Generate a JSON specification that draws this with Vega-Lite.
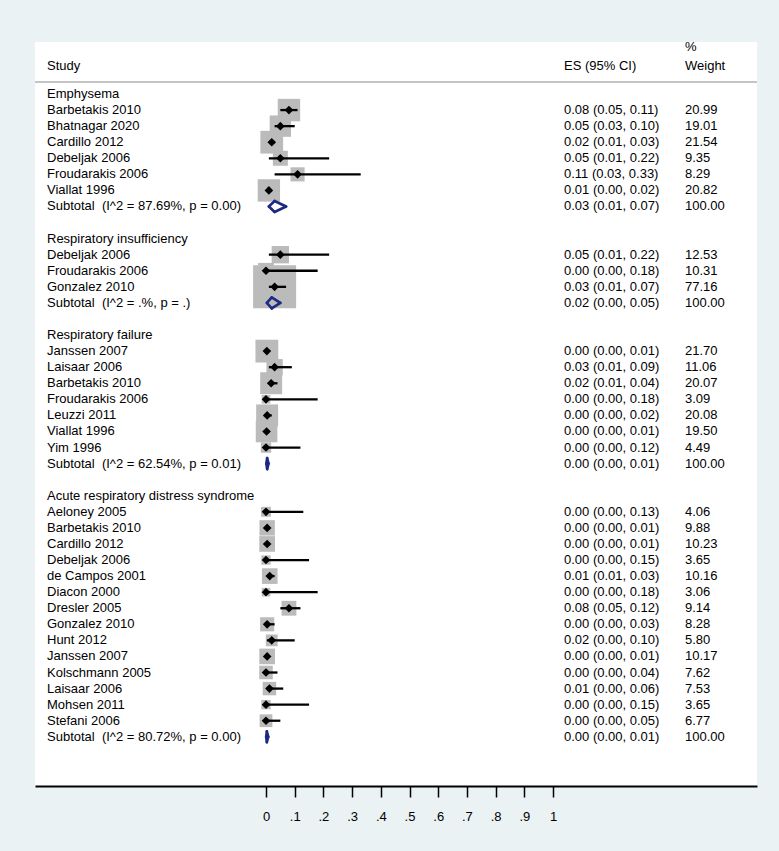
{
  "$schema": "https://vega.github.io/schema/vega-lite/v6.json",
  "width": 722,
  "height": 744,
  "autosize": {"type": "none"},
  "padding": {"left": 35, "top": 42, "right": 22, "bottom": 65},
  "background": "#eaf2f3",
  "config": {
    "view": {"fill": "white", "stroke": null},
    "font": "Liberation Sans",
    "text": {"font": "Liberation Sans", "fontSize": 13, "color": "#000000", "baseline": "middle", "align": "left"},
    "axisX": {"grid": false, "labelExpr": "datum.value == 0 ? '0' : datum.value == 1 ? '1' : '.' + round(datum.value * 10)", "domainColor": "#000000", "domainWidth": 2, "tickColor": "#000000", "tickWidth": 1.5, "tickSize": 11, "labelFont": "Liberation Sans", "labelFontSize": 13, "labelColor": "#000000", "labelPadding": 13, "labelFlush": false, "labelOverlap": false}
  },
  "data": {
    "values": [
      {"row": 0, "label": "Emphysema", "type": "group"},
      {"row": 1, "label": "Barbetakis 2010", "type": "study", "es": 0.08, "lo": 0.05, "hi": 0.11, "w": 20.99, "ci": "0.08 (0.05, 0.11)", "wt": "20.99"},
      {"row": 2, "label": "Bhatnagar 2020", "type": "study", "es": 0.05, "lo": 0.03, "hi": 0.10, "w": 19.01, "ci": "0.05 (0.03, 0.10)", "wt": "19.01"},
      {"row": 3, "label": "Cardillo 2012", "type": "study", "es": 0.02, "lo": 0.01, "hi": 0.03, "w": 21.54, "ci": "0.02 (0.01, 0.03)", "wt": "21.54"},
      {"row": 4, "label": "Debeljak 2006", "type": "study", "es": 0.05, "lo": 0.01, "hi": 0.22, "w": 9.35, "ci": "0.05 (0.01, 0.22)", "wt": "9.35"},
      {"row": 5, "label": "Froudarakis 2006", "type": "study", "es": 0.11, "lo": 0.03, "hi": 0.33, "w": 8.29, "ci": "0.11 (0.03, 0.33)", "wt": "8.29"},
      {"row": 6, "label": "Viallat 1996", "type": "study", "es": 0.01, "lo": 0.003, "hi": 0.02, "w": 20.82, "ci": "0.01 (0.00, 0.02)", "wt": "20.82"},
      {"row": 7, "label": "Subtotal\u00a0 (I^2 = 87.69%, p = 0.00)", "type": "subtotal", "es": 0.03, "lo": 0.01, "hi": 0.07, "w": 100, "ci": "0.03 (0.01, 0.07)", "wt": "100.00"},
      {"row": 9, "label": "Respiratory insufficiency", "type": "group"},
      {"row": 10, "label": "Debeljak 2006", "type": "study", "es": 0.05, "lo": 0.01, "hi": 0.22, "w": 12.53, "ci": "0.05 (0.01, 0.22)", "wt": "12.53"},
      {"row": 11, "label": "Froudarakis 2006", "type": "study", "es": 0.0, "lo": 0.0, "hi": 0.18, "w": 10.31, "ci": "0.00 (0.00, 0.18)", "wt": "10.31"},
      {"row": 12, "label": "Gonzalez 2010", "type": "study", "es": 0.03, "lo": 0.01, "hi": 0.07, "w": 77.16, "ci": "0.03 (0.01, 0.07)", "wt": "77.16"},
      {"row": 13, "label": "Subtotal\u00a0 (I^2 = .%, p = .)", "type": "subtotal", "es": 0.02, "lo": 0.003, "hi": 0.05, "w": 100, "ci": "0.02 (0.00, 0.05)", "wt": "100.00"},
      {"row": 15, "label": "Respiratory failure", "type": "group"},
      {"row": 16, "label": "Janssen 2007", "type": "study", "es": 0.003, "lo": 0.0, "hi": 0.01, "w": 21.70, "ci": "0.00 (0.00, 0.01)", "wt": "21.70"},
      {"row": 17, "label": "Laisaar 2006", "type": "study", "es": 0.03, "lo": 0.01, "hi": 0.09, "w": 11.06, "ci": "0.03 (0.01, 0.09)", "wt": "11.06"},
      {"row": 18, "label": "Barbetakis 2010", "type": "study", "es": 0.018, "lo": 0.01, "hi": 0.04, "w": 20.07, "ci": "0.02 (0.01, 0.04)", "wt": "20.07"},
      {"row": 19, "label": "Froudarakis 2006", "type": "study", "es": 0.0, "lo": 0.0, "hi": 0.18, "w": 3.09, "ci": "0.00 (0.00, 0.18)", "wt": "3.09"},
      {"row": 20, "label": "Leuzzi 2011", "type": "study", "es": 0.004, "lo": 0.0, "hi": 0.02, "w": 20.08, "ci": "0.00 (0.00, 0.02)", "wt": "20.08"},
      {"row": 21, "label": "Viallat 1996", "type": "study", "es": 0.002, "lo": 0.0, "hi": 0.01, "w": 19.50, "ci": "0.00 (0.00, 0.01)", "wt": "19.50"},
      {"row": 22, "label": "Yim 1996", "type": "study", "es": 0.0, "lo": 0.0, "hi": 0.12, "w": 4.49, "ci": "0.00 (0.00, 0.12)", "wt": "4.49"},
      {"row": 23, "label": "Subtotal\u00a0 (I^2 = 62.54%, p = 0.01)", "type": "subtotal", "es": 0.004, "lo": 0.001, "hi": 0.009, "w": 100, "ci": "0.00 (0.00, 0.01)", "wt": "100.00"},
      {"row": 25, "label": "Acute respiratory distress syndrome", "type": "group"},
      {"row": 26, "label": "Aeloney 2005", "type": "study", "es": 0.0, "lo": 0.0, "hi": 0.13, "w": 4.06, "ci": "0.00 (0.00, 0.13)", "wt": "4.06"},
      {"row": 27, "label": "Barbetakis 2010", "type": "study", "es": 0.004, "lo": 0.0, "hi": 0.01, "w": 9.88, "ci": "0.00 (0.00, 0.01)", "wt": "9.88"},
      {"row": 28, "label": "Cardillo 2012", "type": "study", "es": 0.004, "lo": 0.0, "hi": 0.01, "w": 10.23, "ci": "0.00 (0.00, 0.01)", "wt": "10.23"},
      {"row": 29, "label": "Debeljak 2006", "type": "study", "es": 0.0, "lo": 0.0, "hi": 0.15, "w": 3.65, "ci": "0.00 (0.00, 0.15)", "wt": "3.65"},
      {"row": 30, "label": "de Campos 2001", "type": "study", "es": 0.013, "lo": 0.01, "hi": 0.03, "w": 10.16, "ci": "0.01 (0.01, 0.03)", "wt": "10.16"},
      {"row": 31, "label": "Diacon 2000", "type": "study", "es": 0.0, "lo": 0.0, "hi": 0.18, "w": 3.06, "ci": "0.00 (0.00, 0.18)", "wt": "3.06"},
      {"row": 32, "label": "Dresler 2005", "type": "study", "es": 0.08, "lo": 0.05, "hi": 0.12, "w": 9.14, "ci": "0.08 (0.05, 0.12)", "wt": "9.14"},
      {"row": 33, "label": "Gonzalez 2010", "type": "study", "es": 0.004, "lo": 0.0, "hi": 0.03, "w": 8.28, "ci": "0.00 (0.00, 0.03)", "wt": "8.28"},
      {"row": 34, "label": "Hunt 2012", "type": "study", "es": 0.02, "lo": 0.003, "hi": 0.10, "w": 5.80, "ci": "0.02 (0.00, 0.10)", "wt": "5.80"},
      {"row": 35, "label": "Janssen 2007", "type": "study", "es": 0.004, "lo": 0.0, "hi": 0.01, "w": 10.17, "ci": "0.00 (0.00, 0.01)", "wt": "10.17"},
      {"row": 36, "label": "Kolschmann 2005", "type": "study", "es": 0.0, "lo": 0.0, "hi": 0.04, "w": 7.62, "ci": "0.00 (0.00, 0.04)", "wt": "7.62"},
      {"row": 37, "label": "Laisaar 2006", "type": "study", "es": 0.012, "lo": 0.003, "hi": 0.06, "w": 7.53, "ci": "0.01 (0.00, 0.06)", "wt": "7.53"},
      {"row": 38, "label": "Mohsen 2011", "type": "study", "es": 0.0, "lo": 0.0, "hi": 0.15, "w": 3.65, "ci": "0.00 (0.00, 0.15)", "wt": "3.65"},
      {"row": 39, "label": "Stefani 2006", "type": "study", "es": 0.0, "lo": 0.0, "hi": 0.05, "w": 6.77, "ci": "0.00 (0.00, 0.05)", "wt": "6.77"},
      {"row": 40, "label": "Subtotal\u00a0 (I^2 = 80.72%, p = 0.00)", "type": "subtotal", "es": 0.003, "lo": 0.0005, "hi": 0.008, "w": 100, "ci": "0.00 (0.00, 0.01)", "wt": "100.00"}
    ]
  },
  "encoding": {
    "y": {"field": "row", "type": "quantitative", "scale": {"domain": [-3.2358, 43.062], "reverse": true, "nice": false, "zero": false}, "axis": null}
  },
  "layer": [
    {
      "transform": [{"filter": "datum.type == 'study'"}],
      "mark": {"type": "square", "filled": true, "color": "#bbbbbb", "opacity": 1},
      "encoding": {
        "x": {"field": "es", "type": "quantitative", "scale": {"domain": [-0.80488, 1.7108], "nice": false, "zero": false}, "axis": {"title": null, "values": [0, 0.1, 0.2, 0.3, 0.4, 0.5, 0.6, 0.7, 0.8, 0.9, 1]}},
        "size": {"field": "w", "type": "quantitative", "scale": {"domain": [0, 100], "range": [0, 2400], "zero": true}, "legend": null}
      }
    },
    {
      "transform": [{"filter": "datum.type == 'study'"}],
      "mark": {"type": "rule", "color": "#000000", "strokeWidth": 2.3},
      "encoding": {
        "x": {"field": "lo", "type": "quantitative", "axis": {"title": null, "values": [0, 0.1, 0.2, 0.3, 0.4, 0.5, 0.6, 0.7, 0.8, 0.9, 1]}},
        "x2": {"field": "hi"}
      }
    },
    {
      "transform": [{"filter": "datum.type == 'study'"}],
      "mark": {"type": "point", "shape": "diamond", "filled": true, "color": "#000000", "size": 75, "opacity": 1},
      "encoding": {
        "x": {"field": "es", "type": "quantitative", "axis": {"title": null, "values": [0, 0.1, 0.2, 0.3, 0.4, 0.5, 0.6, 0.7, 0.8, 0.9, 1]}}
      }
    },
    {
      "transform": [{"filter": "datum.type == 'subtotal'"}],
      "mark": {"type": "rule", "color": "#1c2a82", "strokeWidth": 2.6, "strokeCap": "round", "y2Offset": -5.5},
      "encoding": {"x": {"field": "lo", "type": "quantitative", "axis": {"title": null, "values": [0, 0.1, 0.2, 0.3, 0.4, 0.5, 0.6, 0.7, 0.8, 0.9, 1]}}, "x2": {"field": "es"}, "y2": {"field": "row"}}
    },
    {
      "transform": [{"filter": "datum.type == 'subtotal'"}],
      "mark": {"type": "rule", "color": "#1c2a82", "strokeWidth": 2.6, "strokeCap": "round", "y2Offset": 5.5},
      "encoding": {"x": {"field": "lo", "type": "quantitative", "axis": {"title": null, "values": [0, 0.1, 0.2, 0.3, 0.4, 0.5, 0.6, 0.7, 0.8, 0.9, 1]}}, "x2": {"field": "es"}, "y2": {"field": "row"}}
    },
    {
      "transform": [{"filter": "datum.type == 'subtotal'"}],
      "mark": {"type": "rule", "color": "#1c2a82", "strokeWidth": 2.6, "strokeCap": "round", "y2Offset": -5.5},
      "encoding": {"x": {"field": "hi", "type": "quantitative", "axis": {"title": null, "values": [0, 0.1, 0.2, 0.3, 0.4, 0.5, 0.6, 0.7, 0.8, 0.9, 1]}}, "x2": {"field": "es"}, "y2": {"field": "row"}}
    },
    {
      "transform": [{"filter": "datum.type == 'subtotal'"}],
      "mark": {"type": "rule", "color": "#1c2a82", "strokeWidth": 2.6, "strokeCap": "round", "y2Offset": 5.5},
      "encoding": {"x": {"field": "hi", "type": "quantitative", "axis": {"title": null, "values": [0, 0.1, 0.2, 0.3, 0.4, 0.5, 0.6, 0.7, 0.8, 0.9, 1]}}, "x2": {"field": "es"}, "y2": {"field": "row"}}
    },
    {
      "mark": {"type": "text"},
      "encoding": {
        "x": {"datum": -0.76307, "type": "quantitative", "axis": {"title": null, "values": [0, 0.1, 0.2, 0.3, 0.4, 0.5, 0.6, 0.7, 0.8, 0.9, 1]}},
        "text": {"field": "label"}
      }
    },
    {
      "transform": [{"filter": "datum.type != 'group'"}],
      "mark": {"type": "text"},
      "encoding": {
        "x": {"datum": 1.03833, "type": "quantitative", "axis": {"title": null, "values": [0, 0.1, 0.2, 0.3, 0.4, 0.5, 0.6, 0.7, 0.8, 0.9, 1]}},
        "text": {"field": "ci"}
      }
    },
    {
      "transform": [{"filter": "datum.type != 'group'"}],
      "mark": {"type": "text"},
      "encoding": {
        "x": {"datum": 1.45993, "type": "quantitative", "axis": {"title": null, "values": [0, 0.1, 0.2, 0.3, 0.4, 0.5, 0.6, 0.7, 0.8, 0.9, 1]}},
        "text": {"field": "wt"}
      }
    },
    {
      "data": {"values": [{"h": "Study", "col": -0.76307, "r": -1.742}, {"h": "ES (95% CI)", "col": 1.03833, "r": -1.742}, {"h": "Weight", "col": 1.45993, "r": -1.742}, {"h": "%", "col": 1.45993, "r": -2.925}]},
      "mark": {"type": "text"},
      "encoding": {
        "x": {"field": "col", "type": "quantitative", "axis": {"title": null, "values": [0, 0.1, 0.2, 0.3, 0.4, 0.5, 0.6, 0.7, 0.8, 0.9, 1]}},
        "y": {"field": "r", "type": "quantitative"},
        "text": {"field": "h"}
      }
    },
    {
      "data": {"values": [{"a": -0.80488, "b": 1.7108, "r": -0.747}]},
      "mark": {"type": "rule", "color": "#c4c4c4", "strokeWidth": 2},
      "encoding": {
        "x": {"field": "a", "type": "quantitative", "axis": {"title": null, "values": [0, 0.1, 0.2, 0.3, 0.4, 0.5, 0.6, 0.7, 0.8, 0.9, 1]}},
        "x2": {"field": "b"},
        "y": {"field": "r", "type": "quantitative"}
      }
    }
  ]
}
